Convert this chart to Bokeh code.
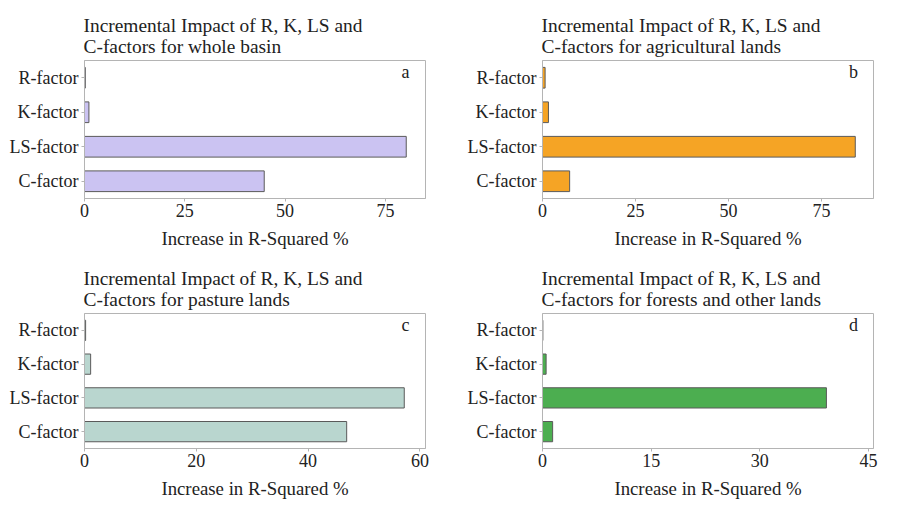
from bokeh.plotting import figure
from bokeh.layouts import gridplot
from bokeh.models import FactorRange, Range1d, FixedTicker, Label, ColumnDataSource
from bokeh.embed import file_html
from bokeh.resources import INLINE

factors = ["R-factor", "K-factor", "LS-factor", "C-factor"]

vals_a = [0.2, 1.1, 80.2, 44.8]
vals_b = [0.7, 1.6, 84.1, 7.3]
vals_c = [0.2, 1.1, 57.2, 46.9]
vals_d = [0.05, 0.5, 39.2, 1.4]

titles = [
    "Incremental Impact of R, K, LS and\nC-factors for whole basin",
    "Incremental Impact of R, K, LS and\nC-factors for agricultural lands",
    "Incremental Impact of R, K, LS and\nC-factors for pasture lands",
    "Incremental Impact of R, K, LS and\nC-factors for forests and other lands",
]
letters = ["a", "b", "c", "d"]
colors = ["#cbc3f2", "#f5a425", "#b9d6cf", "#4cae50"]
x_ends = [85, 89, 61, 45.7]
ticks = [[0, 25, 50, 75], [0, 25, 50, 75], [0, 20, 40, 60], [0, 15, 30, 45]]
all_vals = [vals_a, vals_b, vals_c, vals_d]

FONT = "Liberation Serif"
TXT = "#222222"
GRAY = "#b4b4b4"


def make(i, width, height, bl, br, bt, bb):
    p = figure(
        width=width, height=height,
        y_range=FactorRange(factors=factors[::-1], range_padding=0),
        x_range=Range1d(0, x_ends[i]),
        output_backend="svg", toolbar_location=None,
        min_border_left=bl, min_border_right=br,
        min_border_top=bt, min_border_bottom=bb,
    )
    src = ColumnDataSource(dict(y=factors, v=all_vals[i]))
    p.hbar(y="y", right="v", left=0, height=0.6, source=src,
           fill_color=colors[i], line_color="#5a5a5a", line_width=1)
    p.title.text = titles[i]
    p.title.text_font = FONT
    p.title.text_font_size = "19.4px"
    p.title.text_font_style = "normal"
    p.title.text_color = TXT
    p.title.align = "left"
    p.title.offset = -1
    p.title.standoff = 8
    p.xaxis.ticker = FixedTicker(ticks=ticks[i])
    p.xaxis.axis_label = "Increase in R-Squared %"
    for ax in (p.xaxis, p.yaxis):
        ax.axis_line_color = GRAY
        ax.major_tick_line_color = GRAY
        ax.major_tick_out = 3
        ax.major_tick_in = 0
        ax.minor_tick_line_color = None
        ax.major_label_text_font = FONT
        ax.major_label_text_font_size = "18px"
        ax.major_label_text_color = TXT
        ax.axis_label_text_font = FONT
        ax.axis_label_text_font_size = "18.8px"
        ax.axis_label_text_font_style = "normal"
        ax.axis_label_text_color = TXT
    p.xaxis.major_label_standoff = 2
    p.yaxis.major_label_standoff = 3
    p.xaxis.axis_label_standoff = 8
    p.xgrid.grid_line_color = None
    p.ygrid.grid_line_color = None
    p.outline_line_color = GRAY
    p.outline_line_alpha = 1
    p.add_layout(Label(x=x_ends[i], y=4, x_units="data", y_units="data",
                       text=letters[i], x_offset=-20, y_offset=-1,
                       text_align="center", text_baseline="top",
                       text_font=FONT, text_font_size="18px",
                       text_color=TXT))
    return p


p1 = make(0, 440, 256, 84, 15, 60, 58)
p2 = make(1, 443, 256, 102, 10, 60, 58)
p3 = make(2, 440, 245, 84, 15, 57, 50)
p4 = make(3, 443, 245, 102, 10, 57, 50)

grid = gridplot([[p1, p2], [p3, p4]], toolbar_location=None)

open("out.html", "w").write(file_html(grid, INLINE))
